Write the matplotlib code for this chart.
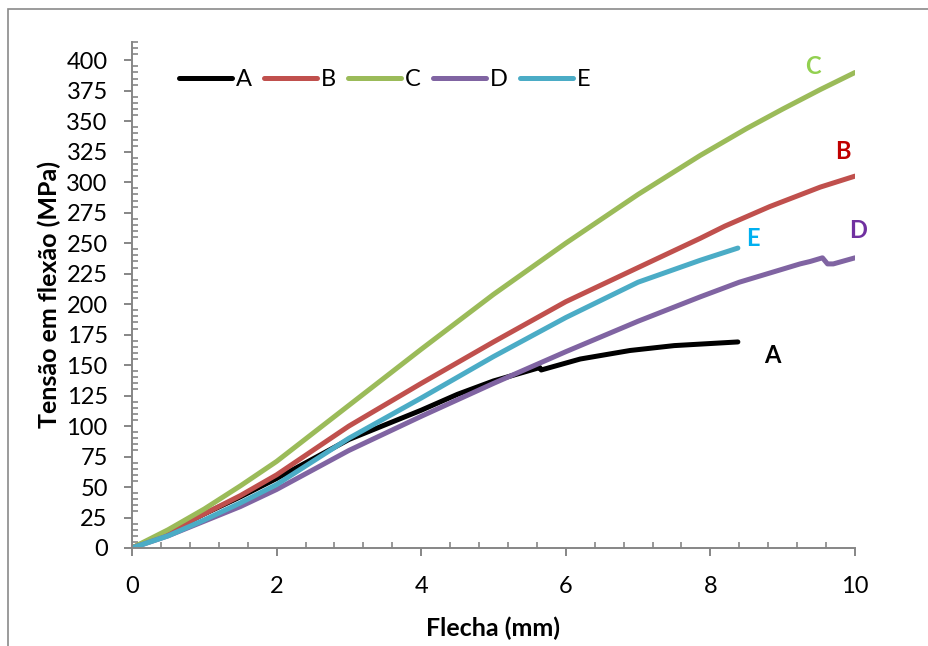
import matplotlib
matplotlib.use("Agg")
import matplotlib.pyplot as plt
from matplotlib.patches import Rectangle
from matplotlib.ticker import MultipleLocator

plt.rcParams['font.family'] = ['Lato', 'DejaVu Sans']

# Data
xA = [0, 0.5, 1, 1.5, 2, 3, 4, 4.5, 5, 5.64, 5.66, 6.2, 6.89, 7.5, 8.38]
yA = [0, 13, 28, 42, 57, 89, 113, 126, 137, 148, 146, 155, 162, 166, 169]

xB = [0, 0.5, 1, 1.5, 2, 3, 4, 5, 6, 7, 7.86, 8.2, 8.82, 9.52, 10]
yB = [0, 13, 28, 43, 60, 100, 135, 169, 202, 230, 254, 264, 280, 296, 305]

xC = [0, 0.5, 1, 1.5, 2, 3, 4, 5, 6, 7, 7.86, 8.5, 9, 9.52, 10]
yC = [0, 15, 32, 51, 71, 117, 163, 208, 250, 290, 322, 344, 360, 376, 390]

xD = [0, 0.5, 1, 1.5, 2, 3, 4, 5, 6, 7, 7.86, 8.4, 8.96, 9.24, 9.38, 9.55, 9.62, 9.7, 10]
yD = [0, 10, 22, 34, 48, 80, 108, 135, 161, 186, 206, 218, 228, 233, 235, 238, 233, 233, 238]

xE = [0, 0.5, 1, 1.5, 2, 3, 4, 5, 6, 7, 7.86, 8.38]
yE = [0, 10, 23, 37, 52, 90, 123, 157, 189, 218, 236, 246]

series = [("A", xA, yA, "#000000"), ("B", xB, yB, "#C0504D"), ("C", xC, yC, "#9BBB59"),
          ("D", xD, yD, "#8064A2"), ("E", xE, yE, "#4BACC6")]

end_labels = [("C", 9.42, 395, "#92D050"), ("B", 9.83, 325, "#C00000"), ("D", 10.04, 260, "#7030A0"),
              ("E", 8.59, 254, "#00B0F0"), ("A", 8.85, 158, "#000000")]

W, H = 929, 646
fig = plt.figure(figsize=(W / 100, H / 100), dpi=100)
ax = fig.add_axes([132 / W, 1 - 548 / H, (855 - 132) / W, (548 - 42) / H])

for name, xs, ys, col in series:
    ax.plot(xs, ys, color=col, lw=3.6, solid_capstyle='round', solid_joinstyle='round', label=name)

for name, x, y, col in end_labels:
    ax.text(x, y, name, color=col, fontsize=17, fontweight='bold', ha='center', va='center')

ax.set_xlim(0, 10)
ax.set_ylim(0, 415)
ax.xaxis.set_major_locator(MultipleLocator(2))
ax.xaxis.set_minor_locator(MultipleLocator(0.4))
ax.set_yticks(list(range(0, 401, 25)))
ax.yaxis.set_minor_locator(MultipleLocator(5))

for s in ['top', 'right']:
    ax.spines[s].set_visible(False)
for s in ['left', 'bottom']:
    ax.spines[s].set_color('#868686')
    ax.spines[s].set_linewidth(1.4)

ax.tick_params(which='major', direction='out', length=5.5, width=1.4, color='#868686',
               labelsize=17, labelcolor='black')
ax.tick_params(axis='y', which='major', pad=12)
ax.tick_params(axis='x', which='major', pad=15)
ax.tick_params(which='minor', direction='in', length=4, width=1.2, color='#868686')

ax.set_xlabel('Flecha (mm)', fontsize=18, fontweight='bold', labelpad=14)
ax.set_ylabel('Tensão em flexão (MPa)', fontsize=18, fontweight='bold', labelpad=4)

leg = ax.legend(loc='center left', bbox_to_anchor=((179 - 132) / 723, 384 / 415), ncol=5,
                frameon=False, handlelength=2.25, handletextpad=0.17, columnspacing=0.5,
                fontsize=17, borderaxespad=0, borderpad=0)

fig.patches.append(Rectangle((8 / W, -0.1), 1.2, 1.1 - 9 / H, transform=fig.transFigure,
                             fill=False, edgecolor='#8a8a8a', lw=1.2))

fig.savefig('out.png', dpi=100)
